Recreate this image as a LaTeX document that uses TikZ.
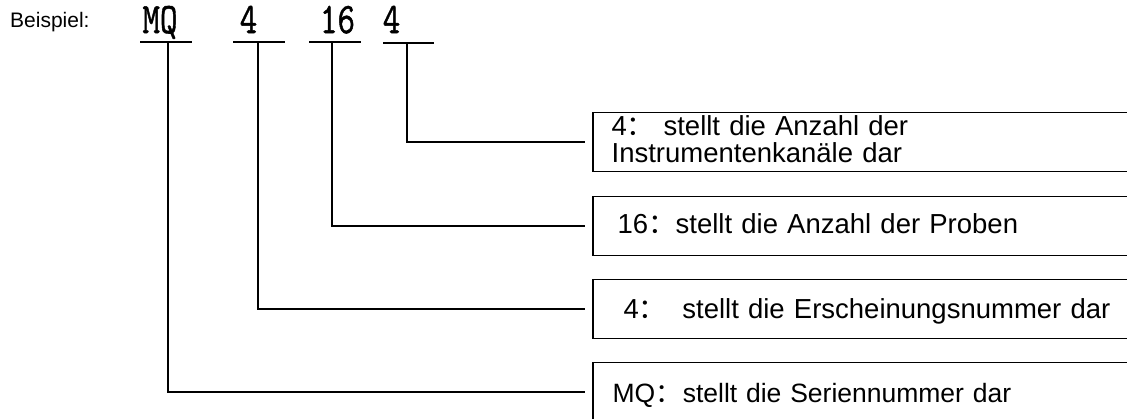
\documentclass[tikz,border=0pt]{standalone}
\usepackage{graphicx}
\usepackage{fontspec}
\setmainfont{Liberation Sans}
\newfontfamily\cjk{Noto Sans CJK SC}
\newfontfamily\codefont[FakeBold=1.2]{Latin Modern Mono}
\newcommand{\codetxt}[1]{\scalebox{1}[1.28]{#1}}
\begin{document}
\begin{tikzpicture}[x=1pt,y=1pt,
  codetext/.style={anchor=base, inner sep=0pt, font=\fontsize{34}{34}\selectfont\codefont},
  uline/.style={line width=1.3pt},
  conn/.style={line width=1.4pt, shorten >=8pt},
  box/.style={draw, line width=1.2pt, anchor=north west, minimum height=59pt,
    inner ysep=0pt, text width=520pt, align=left,
    font=\fontsize{27.5}{27}\selectfont},
  boxedge/.style={line width=2.6pt}]
\useasboundingbox (0,0) rectangle (1127,-418);
% heading
\node[anchor=base west, inner sep=0pt, font=\fontsize{21}{21}\selectfont] (bsp) at (10,-27) {Beispiel:};
% code parts
\node[codetext] (c1) at (160,-33) {\codetxt{MQ}};
\node[codetext] (c2) at (248.5,-33) {\codetxt{4}};
\node[codetext] (c3) at (337.5,-33) {\codetxt{16}};
\node[codetext] (c4) at (391.5,-33) {\codetxt{4}};
% underlines
\draw[uline] (140,-42) -- (192,-42);
\draw[uline] (233,-42) -- (285,-42);
\draw[uline] (309,-42) -- (361,-42);
\draw[uline] (383,-43) -- (434,-43);
\coordinate (u1) at (168,-42);
\coordinate (u2) at (258,-42);
\coordinate (u3) at (332,-42);
\coordinate (u4) at (407,-43);
% boxes
\node[box, inner xsep=18pt, text height=23pt, text depth=36pt] (b1) at (593,-112) {4{\cjk ：} stellt die Anzahl der\\Instrumentenkanäle dar};
\node[box, inner xsep=24pt, text height=37pt, text depth=22pt] (b2) at (593,-196) {16{\cjk ：}stellt die Anzahl der Proben};
\node[box, inner xsep=30pt, text height=39pt, text depth=20pt] (b3) at (593,-279) {4{\cjk ：}\hspace{16pt}stellt die Erscheinungsnummer dar};
\node[box, inner xsep=19pt, text height=40pt, text depth=19pt, font=\fontsize{26.5}{27}\selectfont] (b4) at (593,-362) {MQ{\cjk ：}\hspace{1pt}stellt die Seriennummer dar};
\foreach \b in {b1,b2,b3,b4}
  \draw[boxedge] (\b.north west) -- (\b.south west);
% connectors
\draw[conn] (u4) |- (b1.west);
\draw[conn] (u3) |- (b2.west);
\draw[conn] (u2) |- (b3.west);
\draw[conn] (u1) |- (b4.west);
\end{tikzpicture}
\end{document}
